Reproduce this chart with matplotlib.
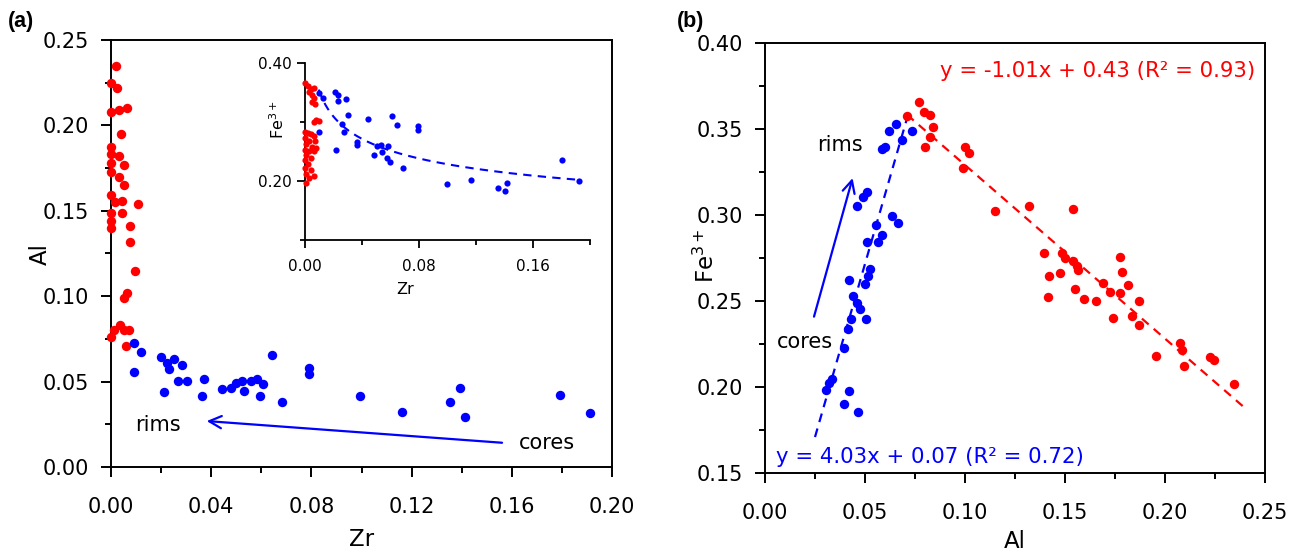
import numpy as np
import matplotlib
matplotlib.use("Agg")
import matplotlib.pyplot as plt
from matplotlib.ticker import MultipleLocator, FormatStrFormatter

plt.rcParams['font.family'] = ['DejaVu Sans']
plt.rcParams['mathtext.fontset'] = 'dejavusans'

RED = '#ff0000'
BLUE = '#0000ff'

# ---- (a) Zr vs Al -------------------------------------------------------
red_zr = [0.002, 0.000, 0.0025, 0.000, 0.003, 0.0065, 0.004, 0.000, 0.000, 0.003,
          0.005, 0.000, 0.000, 0.003, 0.005, 0.000, 0.0016, 0.0044, 0.0106, 0.000,
          0.0044, 0.000, 0.000, 0.0076, 0.0076, 0.0095, 0.005, 0.0065, 0.0034, 0.001,
          0.005, 0.007, 0.000, 0.006]
red_al = [0.235, 0.225, 0.222, 0.208, 0.209, 0.210, 0.195, 0.1875, 0.183, 0.182,
          0.177, 0.178, 0.173, 0.170, 0.165, 0.159, 0.155, 0.156, 0.154, 0.149,
          0.149, 0.144, 0.140, 0.141, 0.132, 0.115, 0.099, 0.102, 0.083, 0.080,
          0.080, 0.080, 0.076, 0.071]

blue_zr = [0.0093, 0.012, 0.0093, 0.020, 0.0222, 0.0252, 0.0232, 0.0282, 0.0269, 0.0302,
           0.0212, 0.0372, 0.0365, 0.0442, 0.048, 0.0498, 0.0522, 0.0531, 0.0559, 0.0582,
           0.0605, 0.0593, 0.0642, 0.0682, 0.0791, 0.0791, 0.0995, 0.1161, 0.1352, 0.1392,
           0.1414, 0.1791, 0.1914]
blue_al = [0.0728, 0.0671, 0.0554, 0.0646, 0.061, 0.063, 0.0572, 0.0597, 0.0503, 0.0503,
           0.0437, 0.0513, 0.0416, 0.0455, 0.0464, 0.0494, 0.0503, 0.0445, 0.0503, 0.0515,
           0.0484, 0.0416, 0.0656, 0.0382, 0.0578, 0.0545, 0.0416, 0.0324, 0.0382, 0.0464,
           0.0295, 0.0422, 0.0314]

# ---- inset: Zr vs Fe3+ --------------------------------------------------
ins_red_zr = [0.000, 0.002, 0.004, 0.006, 0.003, 0.005, 0.006, 0.005, 0.007, 0.008,
              0.010, 0.006, 0.000, 0.002, 0.004, 0.006, 0.000, 0.003, 0.007, 0.001,
              0.005, 0.008, 0.000, 0.003, 0.006, 0.001, 0.004, 0.000, 0.002, 0.000,
              0.004, 0.001, 0.006, 0.003, 0.001]
ins_red_fe = [0.365, 0.360, 0.356, 0.358, 0.350, 0.345, 0.340, 0.333, 0.330, 0.303,
              0.302, 0.300, 0.283, 0.281, 0.279, 0.276, 0.272, 0.268, 0.268, 0.262,
              0.258, 0.256, 0.253, 0.250, 0.250, 0.243, 0.239, 0.235, 0.229, 0.222,
              0.218, 0.212, 0.209, 0.205, 0.197]

ins_blue_zr = [0.010, 0.0124, 0.021, 0.0234, 0.0234, 0.0288, 0.0304, 0.0258, 0.0274, 0.010,
               0.0215, 0.0367, 0.0363, 0.0444, 0.0486, 0.0507, 0.0531, 0.0585, 0.0538, 0.0578,
               0.0596, 0.0608, 0.0643, 0.0685, 0.0795, 0.0795, 0.0999, 0.1165, 0.1352, 0.1404,
               0.142, 0.180, 0.1923]
ins_blue_fe = [0.348, 0.341, 0.351, 0.345, 0.336, 0.338, 0.311, 0.297, 0.282, 0.282,
               0.252, 0.266, 0.260, 0.304, 0.244, 0.259, 0.260, 0.259, 0.249, 0.238,
               0.232, 0.310, 0.294, 0.221, 0.293, 0.286, 0.194, 0.202, 0.188, 0.183,
               0.196, 0.235, 0.200]

# power-law trend Fe3+ = A * Zr^B for the blue cores/rims
pow_a, pow_b = 0.148, -0.188
pow_range = (0.0096, 0.192)

# ---- (b) Al vs Fe3+ -----------------------------------------------------
b_blue_al = [0.0622, 0.0655, 0.0733, 0.0683, 0.0583, 0.0600, 0.0508, 0.0488, 0.0462, 0.0633,
             0.0667, 0.0555, 0.0583, 0.0512, 0.0567, 0.0525, 0.0517, 0.0500, 0.0422, 0.0442,
             0.0458, 0.0475, 0.0428, 0.0505, 0.0417, 0.0395, 0.0333, 0.0322, 0.0305, 0.0422,
             0.0395, 0.0467]
b_blue_fe = [0.3486, 0.3527, 0.3486, 0.3433, 0.3381, 0.3395, 0.3132, 0.3103, 0.3054, 0.2995,
             0.2953, 0.2943, 0.2883, 0.2843, 0.2843, 0.2684, 0.2645, 0.2596, 0.2621, 0.2528,
             0.2489, 0.2450, 0.2392, 0.2392, 0.2338, 0.2227, 0.2046, 0.2022, 0.1983, 0.1973,
             0.1900, 0.1856]

b_red_al = [0.0772, 0.0795, 0.0825, 0.0708, 0.0842, 0.0825, 0.0800, 0.1000, 0.1022, 0.0992,
            0.1150, 0.1322, 0.1542, 0.1395, 0.1483, 0.1500, 0.1542, 0.1558, 0.1567, 0.1422,
            0.1475, 0.1413, 0.1550, 0.1595, 0.1655, 0.1692, 0.1725, 0.1775, 0.1783, 0.1775,
            0.1817, 0.1742, 0.1833, 0.1872, 0.1872, 0.1955, 0.2075, 0.2083, 0.2095, 0.2225,
            0.2247, 0.2345]
b_red_fe = [0.3658, 0.3600, 0.3580, 0.3576, 0.3512, 0.3453, 0.3395, 0.3395, 0.3362, 0.3272,
            0.3025, 0.3054, 0.3035, 0.2781, 0.2781, 0.2752, 0.2733, 0.2703, 0.2680, 0.2645,
            0.2661, 0.2522, 0.2571, 0.2509, 0.2499, 0.2602, 0.2551, 0.2756, 0.2665, 0.2544,
            0.2591, 0.2402, 0.2411, 0.2499, 0.2357, 0.2178, 0.2252, 0.2213, 0.2119, 0.2174,
            0.2154, 0.2018]

# linear fits shown on (b)
fit_blue = (4.03, 0.07)
fit_red = (-1.01, 0.43)
fit_blue_range = (0.025, 0.071)
fit_red_range = (0.071, 0.239)

W, H = 1301, 553


def fx(px):
    return px / W


def fy(py):
    return 1 - py / H


def style_axes(ax, lw=1.4, major=7.5, minor=4.5, size=15, xpad=14, ypad=8):
    for s in ax.spines.values():
        s.set_linewidth(lw)
    ax.tick_params(which='both', direction='out', width=lw, top=False, right=False,
                   labelsize=size)
    ax.tick_params(which='major', length=major)
    ax.tick_params(which='minor', length=minor)
    ax.tick_params(axis='x', which='major', pad=xpad)
    ax.tick_params(axis='y', which='major', pad=ypad)


fig = plt.figure(figsize=(W / 100, H / 100), dpi=100)

# ---------------- panel (a) ----------------
axa = fig.add_axes([fx(111), fy(467), fx(612) - fx(111), fy(40) - fy(467)])
axa.scatter(red_zr, red_al, s=46, color=RED, lw=0, clip_on=False, zorder=3)
axa.scatter(blue_zr, blue_al, s=46, color=BLUE, lw=0, clip_on=False, zorder=3)
axa.set_xlim(0, 0.20)
axa.set_ylim(0, 0.25)
axa.xaxis.set_major_locator(MultipleLocator(0.04))
axa.xaxis.set_minor_locator(MultipleLocator(0.02))
axa.yaxis.set_major_locator(MultipleLocator(0.05))
axa.yaxis.set_minor_locator(MultipleLocator(0.025))
axa.xaxis.set_major_formatter(FormatStrFormatter('%.2f'))
axa.yaxis.set_major_formatter(FormatStrFormatter('%.2f'))
style_axes(axa)
axa.annotate('', xy=(0.0382, 0.0269), xytext=(0.1561, 0.0142),
             arrowprops=dict(arrowstyle='->', color=BLUE, lw=1.6,
                             mutation_scale=22, shrinkA=0, shrinkB=0))
axa.text(0.0189, 0.0246, 'rims', fontsize=15, ha='center', va='center')
axa.text(0.174, 0.0142, 'cores', fontsize=15, ha='center', va='center')

fig.text(fx(362), fy(539), 'Zr', fontsize=16.5, ha='center', va='center')
fig.text(fx(40), fy(254), 'Al', fontsize=16.5, ha='center', va='center', rotation=90)
fig.text(fx(21), fy(21), '(a)', fontsize=15.5, fontweight='bold', ha='center', va='center',
         family='Liberation Sans')

# ---------------- inset ----------------
axi = fig.add_axes([fx(305), fy(240), fx(590) - fx(305), fy(62.7) - fy(240)])
axi.set_facecolor('none')
axi.scatter(ins_red_zr, ins_red_fe, s=20, color=RED, lw=0, clip_on=False, zorder=3)
axi.scatter(ins_blue_zr, ins_blue_fe, s=20, color=BLUE, lw=0, clip_on=False, zorder=3)
zz = np.linspace(pow_range[0], pow_range[1], 200)
axi.plot(zz, pow_a * zz ** pow_b, color=BLUE, lw=1.5, ls=(0, (4, 3)), zorder=2)
axi.set_xlim(0, 0.20)
axi.set_ylim(0.10, 0.40)
axi.spines['top'].set_visible(False)
axi.spines['right'].set_visible(False)
axi.xaxis.set_major_locator(MultipleLocator(0.08))
axi.xaxis.set_minor_locator(MultipleLocator(0.04))
axi.yaxis.set_major_locator(MultipleLocator(0.2))
axi.yaxis.set_minor_locator(MultipleLocator(0.1))
axi.xaxis.set_major_formatter(FormatStrFormatter('%.2f'))
axi.yaxis.set_major_formatter(FormatStrFormatter('%.2f'))
style_axes(axi, lw=1.3, major=5.5, minor=3.5, size=11, xpad=8, ypad=4)
fig.text(fx(405), fy(289), 'Zr', fontsize=11.5, ha='center', va='center')
fig.text(fx(278), fy(120), r'$\mathregular{Fe^{3+}}$', fontsize=11.5,
         ha='center', va='center', rotation=90)

# ---------------- panel (b) ----------------
axb = fig.add_axes([fx(765), fy(472.7), fx(1265) - fx(765), fy(43) - fy(472.7)])
axb.scatter(b_blue_al, b_blue_fe, s=46, color=BLUE, lw=0, zorder=3)
axb.scatter(b_red_al, b_red_fe, s=46, color=RED, lw=0, zorder=3)
xb = np.linspace(*fit_blue_range, 50)
axb.plot(xb, fit_blue[0] * xb + fit_blue[1], color=BLUE, lw=1.6, ls=(0, (4, 3)), zorder=2)
xr = np.linspace(*fit_red_range, 50)
axb.plot(xr, fit_red[0] * xr + fit_red[1], color=RED, lw=1.6, ls=(0, (4, 3)), zorder=2)
axb.set_xlim(0, 0.25)
axb.set_ylim(0.15, 0.40)
axb.xaxis.set_major_locator(MultipleLocator(0.05))
axb.xaxis.set_minor_locator(MultipleLocator(0.025))
axb.yaxis.set_major_locator(MultipleLocator(0.05))
axb.yaxis.set_minor_locator(MultipleLocator(0.025))
axb.xaxis.set_major_formatter(FormatStrFormatter('%.2f'))
axb.yaxis.set_major_formatter(FormatStrFormatter('%.2f'))
style_axes(axb)
axb.annotate('', xy=(0.0438, 0.3214), xytext=(0.0245, 0.2408),
             arrowprops=dict(arrowstyle='->', color=BLUE, lw=1.6,
                             mutation_scale=22, shrinkA=0, shrinkB=0))
axb.text(0.0375, 0.3404, 'rims', fontsize=15, ha='center', va='center')
axb.text(0.020, 0.2259, 'cores', fontsize=15, ha='center', va='center')
axb.text(0.0875, 0.384, 'y = %.2fx + %.2f (R² = 0.93)' % fit_red, color=RED,
         fontsize=15.3, ha='left', va='center')
axb.text(0.0055, 0.1592, 'y = %.2fx + %.2f (R² = 0.72)' % fit_blue, color=BLUE,
         fontsize=15.3, ha='left', va='center')

fig.text(fx(1015), fy(541), 'Al', fontsize=16.5, ha='center', va='center')
fig.text(fx(706), fy(256), r'$\mathregular{Fe^{3+}}$', fontsize=16.5,
         ha='center', va='center', rotation=90)
fig.text(fx(691), fy(21), '(b)', fontsize=15.5, fontweight='bold', ha='center', va='center',
         family='Liberation Sans')

fig.savefig('out.png', dpi=100, facecolor='white')
